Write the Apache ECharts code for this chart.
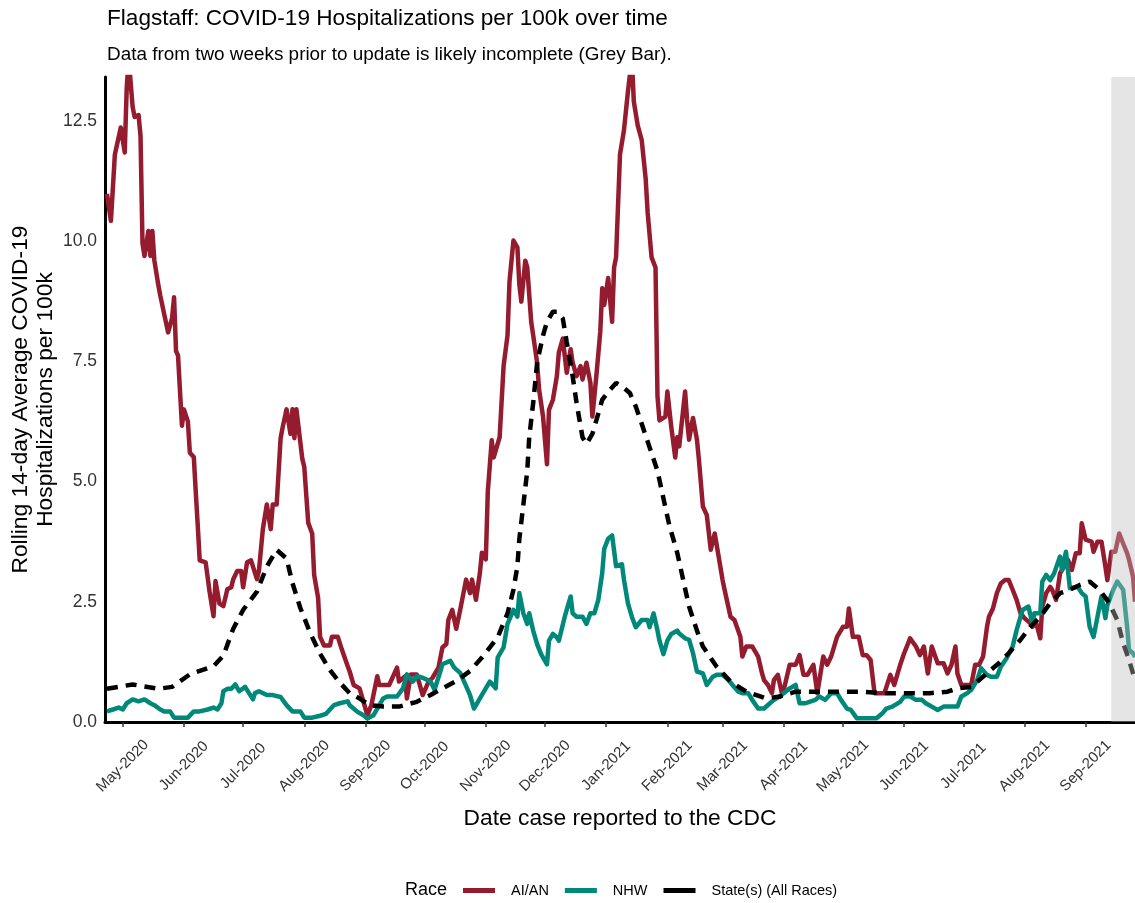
<!DOCTYPE html>
<html>
<head>
<meta charset="utf-8">
<script src="https://cdn.jsdelivr.net/npm/echarts@6/dist/echarts.min.js"></script>
<style>
html,body{margin:0;padding:0;background:#fff;}
#chart{width:1135px;height:903px;}
</style>
</head>
<body>
<div id="chart"></div>
<script>
// ---- data (day = days since startDate) ----
const startDate = '2020-04-22';
const axisEnd = '2021-09-26';
const incompleteStart = '2021-09-14';

const seriesNames = ['AI/AN', 'NHW', 'State(s) (All Races)'];

const aianDay = [1,3,5,8,10,11,12,14,15,17,18,19,20,22,23,24,25,27,28,29,30,32,34,35,36,37,39,40,42,43,45,46,47,48,51,53,55,56,58,60,62,64,65,67,69,70,72,74,77,78,80,82,84,85,87,89,90,92,94,95,96,97,98,100,101,103,105,106,108,109,111,114,115,118,120,123,124,126,129,133,135,138,139,144,148,149,152,153,155,158,161,164,166,169,171,173,174,176,178,180,181,183,185,186,187,188,190,191,193,194,196,197,199,200,202,204,205,207,209,210,211,213,214,216,217,219,220,222,224,225,227,229,230,232,234,236,237,239,241,242,244,246,247,249,251,252,253,255,257,258,259,261,263,265,267,268,270,272,274,275,277,279,280,281,284,285,287,289,290,291,294,295,296,298,300,301,303,305,307,309,311,313,314,317,319,322,323,325,328,329,331,333,334,336,338,339,341,343,344,347,350,352,354,356,359,361,362,364,366,368,371,372,374,376,377,379,382,384,386,388,390,393,395,398,400,403,405,408,409,411,413,415,417,419,422,425,427,429,431,432,434,437,439,441,443,445,447,448,450,452,454,456,458,460,462,464,466,469,470,472,474,475,477,479,480,482,484,485,488,490,492,494,495,497,500,501,503,505,507,508,510,512,514,516,518,519,521,522];
const aianVal = [10.98,10.42,11.80,12.36,11.84,13.18,13.8,12.79,12.58,12.62,12.19,9.95,9.69,10.21,9.69,10.21,9.60,9.09,8.87,8.83,8.48,8.10,8.40,8.83,7.71,7.62,6.16,6.50,6.25,5.60,5.51,4.78,4.09,3.36,3.32,2.71,2.20,2.93,2.46,2.41,2.76,2.80,2.97,3.14,3.14,2.80,3.32,3.36,2.97,3.14,4.01,4.52,4.01,4.52,4.52,5.90,6.12,6.50,5.99,6.50,5.90,6.50,6.50,5.47,5.30,4.14,3.92,3.06,2.58,1.77,1.59,1.59,1.77,1.77,1.51,1.16,1.05,0.77,0.70,0.14,0.35,0.95,0.77,0.77,1.13,0.84,0.95,0.49,0.99,0.99,0.56,0.84,0.92,1.13,1.55,1.62,2.12,2.33,1.94,2.33,2.54,2.96,2.68,2.96,2.96,2.54,3.10,3.52,3.38,4.79,5.86,5.50,5.78,5.92,7.40,8.04,9.16,10.01,9.87,9.09,8.74,9.59,9.45,8.32,8.04,7.47,6.91,6.35,5.36,6.49,6.70,7.19,7.68,7.97,7.26,7.75,7.47,7.19,7.40,7.12,7.47,7.05,6.35,7.19,8.11,9.02,8.67,9.23,8.32,9.45,9.66,11.8,12.3,13.1,13.8,12.9,12.4,12.1,11.3,10.6,9.66,9.45,6.77,6.27,6.35,6.87,6.13,5.50,5.92,5.73,6.87,6.28,5.87,6.32,5.87,5.45,4.48,4.30,3.58,3.92,3.44,2.95,2.75,2.19,2.12,1.77,1.36,1.57,1.57,1.53,1.36,1.01,0.87,0.77,0.60,0.87,0.98,0.60,0.67,1.19,1.19,1.39,0.98,0.98,1.19,0.60,0.60,1.36,1.19,1.36,1.77,1.77,1.98,1.98,2.36,1.77,1.77,1.39,1.39,1.29,0.60,0.60,0.60,0.98,0.77,1.19,1.43,1.74,1.77,1.57,1.39,1.57,1.01,1.57,1.22,1.22,1.01,1.19,1.57,1.01,0.77,0.77,0.77,1.19,1.19,1.36,1.98,2.19,2.36,2.68,2.88,2.95,2.95,2.75,2.54,2.26,2.16,2.05,1.98,2.05,1.74,2.40,2.68,2.81,2.75,2.54,3.09,3.16,3.37,3.16,3.51,3.51,4.13,3.79,3.75,3.54,3.75,3.75,3.23,2.95,3.54,3.54,3.92,3.71,3.51,3.37,3.02,2.50];

const nhwDay = [1,4,7,9,11,14,17,20,23,25,28,30,33,35,39,42,45,48,52,55,57,59,60,62,64,66,68,71,72,75,76,78,82,85,89,92,95,99,101,105,109,112,116,119,123,124,128,131,133,136,138,141,143,148,151,153,156,158,161,165,167,170,171,175,177,180,182,185,187,190,192,195,198,199,202,204,207,209,210,212,214,215,217,219,221,224,225,227,229,230,233,236,237,239,242,244,246,248,250,252,253,255,257,259,262,263,265,267,269,272,275,276,278,280,281,283,285,287,290,291,294,296,298,300,303,305,308,310,313,316,318,321,323,326,328,331,334,337,339,342,344,347,350,352,355,357,360,362,365,368,371,373,376,378,381,386,391,394,396,399,403,405,408,411,414,416,419,422,425,427,430,432,434,437,439,442,444,447,449,452,454,457,460,462,465,468,470,471,474,475,477,479,481,484,485,487,489,490,493,495,497,499,501,503,505,507,508,511,513,514,516,518,519,521,522];
const nhwVal = [0.22,0.26,0.30,0.26,0.39,0.47,0.43,0.47,0.39,0.35,0.26,0.22,0.22,0.09,0.09,0.09,0.22,0.22,0.26,0.30,0.26,0.39,0.64,0.69,0.69,0.78,0.64,0.73,0.69,0.47,0.60,0.64,0.56,0.56,0.52,0.35,0.22,0.22,0.09,0.09,0.13,0.17,0.35,0.39,0.43,0.35,0.21,0.14,0.07,0.14,0.28,0.49,0.53,0.53,0.70,0.99,0.84,0.95,0.92,0.84,0.67,1.06,1.20,1.27,1.13,1.02,0.84,0.56,0.28,0.49,0.63,0.84,0.70,1.34,1.55,2.04,2.33,2.19,2.68,2.26,2.04,2.26,1.90,1.62,1.41,1.20,1.69,1.83,1.76,1.69,2.19,2.61,2.26,2.19,2.19,2.04,2.26,2.26,2.54,3.10,3.60,3.81,3.88,3.24,3.28,2.96,2.47,2.19,1.97,2.12,2.12,1.97,2.26,1.90,1.69,1.41,1.69,1.83,1.90,1.84,1.74,1.71,1.43,1.05,1.01,0.77,0.94,0.98,0.98,0.87,0.77,0.63,0.60,0.60,0.46,0.28,0.28,0.39,0.46,0.53,0.60,0.70,0.77,0.39,0.39,0.42,0.46,0.53,0.46,0.60,0.60,0.46,0.28,0.25,0.08,0.08,0.08,0.18,0.28,0.32,0.42,0.53,0.53,0.46,0.46,0.39,0.32,0.25,0.32,0.32,0.32,0.32,0.53,0.60,0.67,0.87,1.12,0.98,0.94,0.94,1.15,1.33,1.57,1.91,2.33,2.40,2.05,2.26,2.26,2.92,3.06,2.95,3.09,3.44,3.16,3.54,2.78,2.78,2.81,2.68,2.61,1.98,1.77,2.19,2.61,2.16,2.43,2.75,2.92,2.95,2.75,1.98,1.50,1.43,1.35];

const stateDay = [1,14,27,34,43,55,60,65,70,77,82,87,92,95,99,104,109,114,119,124,129,134,141,149,158,165,171,178,185,191,199,204,207,209,210,212,214,215,217,219,222,224,227,229,232,234,237,239,242,244,247,249,252,256,259,262,266,269,272,276,280,283,286,290,293,296,300,303,310,317,325,335,342,350,359,367,376,384,393,401,409,418,427,432,439,443,448,453,458,464,469,474,479,484,489,494,499,504,509,513,516,519,522];
const stateVal = [0.69,0.78,0.69,0.73,0.99,1.16,1.38,1.94,2.33,2.71,3.23,3.58,3.40,2.89,2.37,1.85,1.42,1.08,0.82,0.60,0.49,0.35,0.32,0.32,0.42,0.56,0.70,0.85,1.06,1.34,1.76,2.26,2.75,3.24,3.81,4.51,5.22,5.92,6.63,7.47,8.04,8.32,8.53,8.53,8.39,7.90,7.19,6.63,5.92,5.78,5.99,6.27,6.70,6.91,7.05,6.98,6.84,6.56,6.20,5.71,5.22,4.65,4.09,3.52,2.96,2.40,1.90,1.57,1.15,0.84,0.63,0.49,0.53,0.63,0.63,0.63,0.63,0.63,0.60,0.60,0.60,0.60,0.63,0.70,0.73,0.87,1.05,1.22,1.43,1.71,1.98,2.19,2.47,2.68,2.75,2.85,2.92,2.75,2.47,2.12,1.64,1.29,0.87];

const monthTicks = ['2020-05-01','2020-06-01','2020-07-01','2020-08-01','2020-09-01','2020-10-01','2020-11-01','2020-12-01','2021-01-01','2021-02-01','2021-03-01','2021-04-01','2021-05-01','2021-06-01','2021-07-01','2021-08-01','2021-09-01'];
const monthLabels = ['May-2020','Jun-2020','Jul-2020','Aug-2020','Sep-2020','Oct-2020','Nov-2020','Dec-2020','Jan-2021','Feb-2021','Mar-2021','Apr-2021','May-2021','Jun-2021','Jul-2021','Aug-2021','Sep-2021'];
const yTicks = [0, 2.5, 5, 7.5, 10, 12.5];
const yMax = 13.41;

// ---- build ----
const DAY = 86400000;
const t0 = Date.parse(startDate);
const toPairs = (days, vals) => days.map((d, i) => [t0 + d * DAY, vals[i]]);
const tickTimes = monthTicks.map(s => Date.parse(s));
const FONT = '"Liberation Sans", Arial, Helvetica, sans-serif';

const chart = echarts.init(document.getElementById('chart'), null, {renderer: 'canvas'});
chart.setOption({
  animation: false,
  backgroundColor: '#fff',
  textStyle: {fontFamily: FONT},
  title: [
    {text: 'Flagstaff: COVID-19 Hospitalizations per 100k over time', left: 107, top: 7, padding: 0,
     textStyle: {fontSize: 22.6, fontWeight: 'normal', color: '#000', fontFamily: FONT}},
    {text: 'Data from two weeks prior to update is likely incomplete (Grey Bar).', left: 107, top: 45, padding: 0,
     textStyle: {fontSize: 18.9, fontWeight: 'normal', color: '#000', fontFamily: FONT}},
    {text: 'Race', left: 405, top: 881, padding: 0,
     textStyle: {fontSize: 18, fontWeight: 'normal', color: '#000', fontFamily: FONT}}
  ],
  grid: {left: 105, right: 0, top: 77, bottom: 181, containLabel: false, outerBoundsMode: 'none'},
  legend: {
    data: seriesNames, left: 463, top: 883, padding: 0, icon: 'rect', itemWidth: 32, itemHeight: 5, itemGap: 16,
    textStyle: {fontSize: 14.5, color: '#000', fontFamily: FONT, padding: [0, 0, 0, 11]},
    selectedMode: false
  },
  xAxis: {
    type: 'value', min: t0, max: Date.parse(axisEnd),
    name: 'Date case reported to the CDC', nameLocation: 'middle', nameGap: 85, nameMoveOverlap: false,
    nameTextStyle: {fontSize: 22.8, color: '#000', fontFamily: FONT},
    axisLine: {show: true, lineStyle: {color: '#000', width: 3}},
    axisTick: {show: true, customValues: tickTimes, length: 5, lineStyle: {color: '#333', width: 1.5}},
    axisLabel: {
      customValues: tickTimes, rotate: 45, align: 'center', verticalAlign: 'middle', margin: 44,
      fontSize: 15, color: '#333', fontFamily: FONT,
      formatter: v => { const i = tickTimes.indexOf(Number(v)); return i >= 0 ? monthLabels[i] : ''; }
    },
    splitLine: {show: false}
  },
  yAxis: {
    type: 'value', min: 0, max: yMax,
    name: 'Rolling 14-day Average COVID-19\nHospitalizations per 100k', nameLocation: 'middle', nameGap: 47,
    nameMoveOverlap: false,
    nameTextStyle: {fontSize: 22.8, lineHeight: 25, color: '#000', fontFamily: FONT},
    axisLine: {show: true, lineStyle: {color: '#000', width: 3}},
    axisTick: {show: false},
    axisLabel: {customValues: yTicks, fontSize: 17.5, color: '#333', margin: 8, fontFamily: FONT,
      formatter: v => Number(v).toFixed(1)},
    splitLine: {show: false}
  },
  series: [
    {name: seriesNames[0], type: 'line', data: toPairs(aianDay, aianVal), showSymbol: false, z: 2,
     itemStyle: {color: '#951B2F'}, lineStyle: {color: '#951B2F', width: 4.5, join: 'round'}},
    {name: seriesNames[1], type: 'line', data: toPairs(nhwDay, nhwVal), showSymbol: false, z: 2,
     itemStyle: {color: '#00897B'}, lineStyle: {color: '#00897B', width: 4.5, join: 'round'}},
    {name: seriesNames[2], type: 'line', data: toPairs(stateDay, stateVal), showSymbol: false, z: 3,
     itemStyle: {color: '#000'}, lineStyle: {color: '#000', width: 4.5, type: [11, 8]}},
    {name: 'incomplete', type: 'line', data: [[Date.parse(axisEnd), 0]], showSymbol: false, z: 10,
     lineStyle: {opacity: 0}, silent: true,
     markArea: {silent: true, z: 10, itemStyle: {color: 'rgba(190,190,190,0.4)'},
       data: [[{xAxis: Date.parse(incompleteStart)}, {xAxis: Date.parse(axisEnd)}]]}}
  ]
});
</script>
</body>
</html>
